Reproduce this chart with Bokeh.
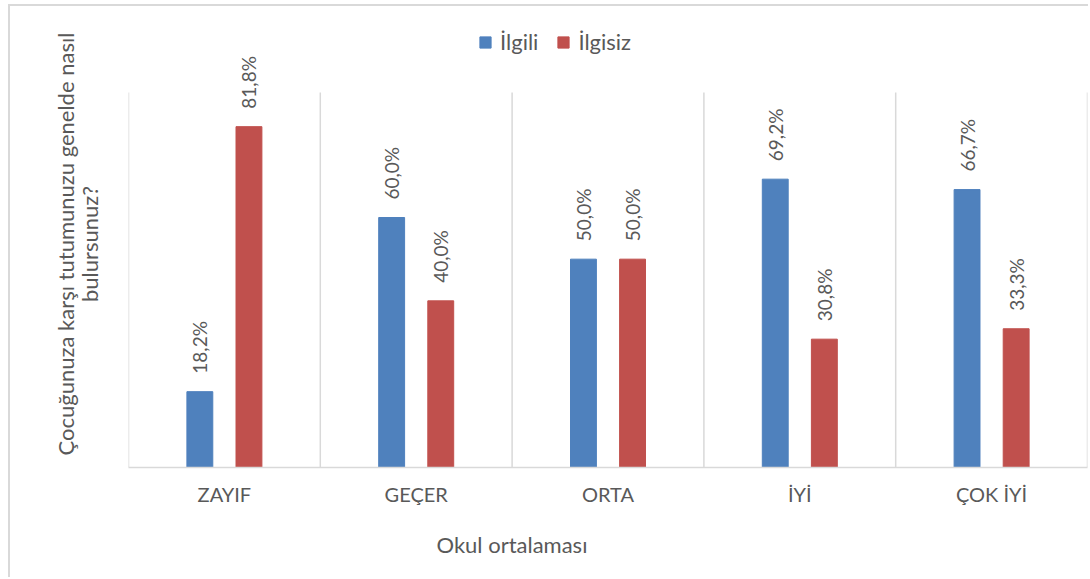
import math
from bokeh.plotting import figure
from bokeh.models import ColumnDataSource, FactorRange, Range1d, Title
from bokeh.transform import dodge
from bokeh.core.properties import value
from bokeh.embed import file_html
from bokeh.resources import INLINE

# ---- data ----
categories = ["ZAYIF", "GEÇER", "ORTA", "İYİ", "ÇOK İYİ"]
ilgili = [18.2, 60.0, 50.0, 69.2, 66.7]
ilgisiz = [81.8, 40.0, 50.0, 30.8, 33.3]
series_names = ["İlgili", "İlgisiz"]
y_title_lines = ["Çocuğunuza karşı tutumunuzu genelde nasıl", "bulursunuz?"]
x_title = "Okul ortalaması"
axis_max = 90  # value axis maximum of the original chart


def fmt(v):
    return f"{v:.1f}".replace(".", ",") + "%"


src = ColumnDataSource(dict(
    cat=categories,
    ilgili=ilgili,
    ilgisiz=ilgisiz,
    ilgili_lbl=[fmt(v) for v in ilgili],
    ilgisiz_lbl=[fmt(v) for v in ilgisiz],
    base=[0] * len(categories),
    top=[axis_max] * len(categories),
))

FONT = "Lato"
TXT = "#595959"
BLUE = "#4F81BD"
RED = "#C0504D"
GRID = "#d9d9d9"

p = figure(
    width=1080, height=573,
    x_range=FactorRange(factors=categories, range_padding=0),
    y_range=Range1d(0, axis_max * 447 / 375),
    output_backend="svg", toolbar_location=None,
    min_border_left=118, min_border_top=14, min_border_bottom=112,
    min_border_right=3,
)
p.styles = {"margin-left": "10px", "margin-top": "6px",
            "box-shadow": "-2px -2px 0 0 #d9d9d9"}
p.outline_line_color = None
p.background_fill_color = "white"
p.border_fill_color = "white"
p.xgrid.visible = False
p.ygrid.visible = False

# y axis: no line/ticks/labels, its label carries the 2nd title line
ya = p.yaxis[0]
ya.axis_line_color = None
ya.major_tick_line_color = None
ya.minor_tick_line_color = None
ya.major_tick_out = 0
ya.major_tick_in = 0
ya.minor_tick_out = 0
ya.major_label_standoff = 0
ya.major_label_text_font_size = "0px"
ya.major_label_text_color = None
ya.axis_label = y_title_lines[1]
ya.axis_label_text_font = FONT
ya.axis_label_text_font_size = "22px"
ya.axis_label_text_font_style = "normal"
ya.axis_label_text_color = TXT
ya.axis_label_standoff = 26

# first title line, outside the axis
p.add_layout(Title(text=y_title_lines[0], align="center", standoff=-12,
                   text_font=FONT, text_font_size="22px",
                   text_font_style="normal", text_color=TXT), "left")

# vertical category separators (left edge of each category + right end)
p.segment(x0=dodge("cat", -0.5, range=p.x_range), y0="base",
          x1=dodge("cat", -0.5, range=p.x_range), y1="top",
          source=src, line_color=GRID, line_width=1.5)
last = ColumnDataSource(dict(cat=categories[-1:], base=[0], top=[axis_max]))
p.segment(x0=dodge("cat", 0.5, range=p.x_range), y0="base",
          x1=dodge("cat", 0.5, range=p.x_range), y1="top",
          source=last, line_color=GRID, line_width=1.5)

OFF = 0.128
W = 0.135

p.vbar(x=dodge("cat", -OFF, range=p.x_range), top="ilgili", width=W, source=src,
       fill_color=BLUE, line_color=BLUE, legend_label=series_names[0])
p.vbar(x=dodge("cat", OFF, range=p.x_range), top="ilgisiz", width=W, source=src,
       fill_color=RED, line_color=RED, legend_label=series_names[1])

for col, off in (("ilgili_lbl", -OFF), ("ilgisiz_lbl", OFF)):
    topcol = col.replace("_lbl", "")
    p.text(x=dodge("cat", off, range=p.x_range), y=topcol, text=col, source=src,
           angle=math.pi / 2, text_align="left", text_baseline="middle",
           y_offset=-18, text_font=value(FONT), text_font_size="19px",
           text_color=TXT)

# x axis
xa = p.xaxis[0]
xa.axis_line_color = GRID
xa.axis_line_width = 1.5
xa.major_tick_line_color = None
xa.minor_tick_line_color = None
xa.major_tick_out = 0
xa.major_label_standoff = 14
xa.major_label_text_font = FONT
xa.major_label_text_font_size = "20px"
xa.major_label_text_color = TXT

# x title (placed left of centre, as in the original)
p.add_layout(Title(text=x_title, align="left", offset=308, standoff=40,
                   text_font=FONT, text_font_size="22px",
                   text_font_style="normal", text_color=TXT), "below")

lg = p.legend[0]
lg.orientation = "horizontal"
lg.location = (350, 412)
lg.border_line_color = None
lg.background_fill_alpha = 0
lg.label_text_font = FONT
lg.label_text_font_size = "22px"
lg.label_text_color = TXT
lg.glyph_width = 14
lg.glyph_height = 14
lg.label_standoff = 8
lg.spacing = 18
lg.padding = 0
lg.margin = 0

open("out.html", "w").write(file_html(p, INLINE))
